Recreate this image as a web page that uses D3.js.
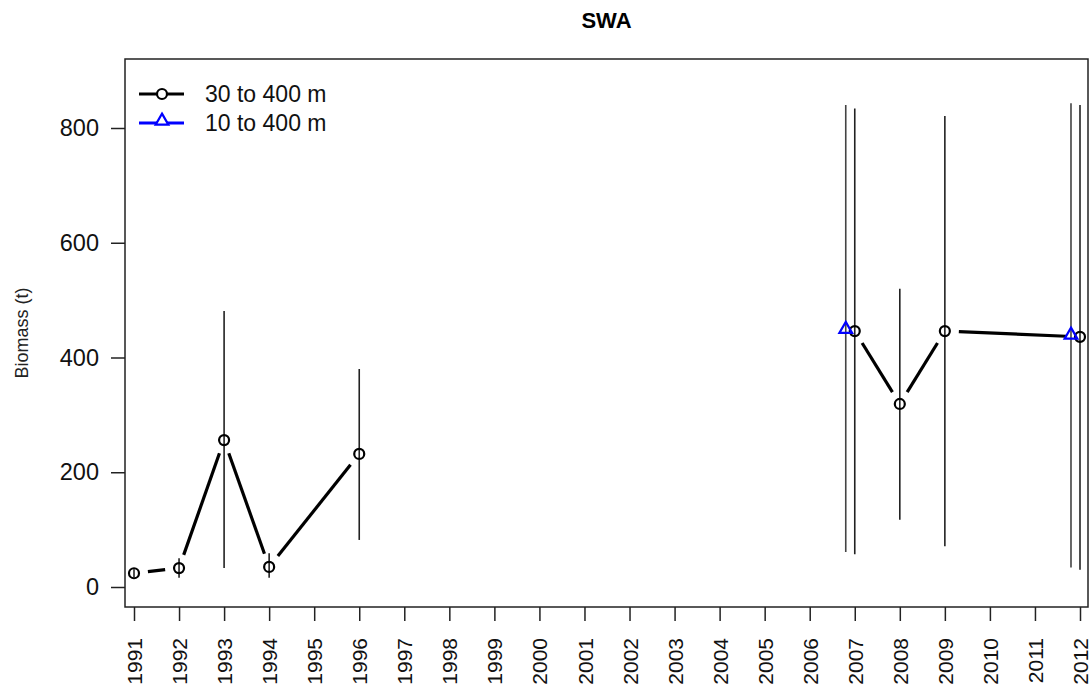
<!DOCTYPE html>
<html>
<head>
<meta charset="utf-8">
<script src="https://cdnjs.cloudflare.com/ajax/libs/d3/7.8.5/d3.min.js"></script>
<style>
  body { margin: 0; background: #fff; }
  svg { font-family: "Liberation Sans", Arial, sans-serif; }
</style>
</head>
<body>
<svg id="chart" width="1090" height="688"></svg>
<script>
// survey series 30 to 400 m (black)
var deepYears = [1991, 1992, 1993, 1994, 1996, 2007, 2008, 2009, 2012];
var deepBiomass = [24, 33, 256, 35, 232, 446, 319, 446, 436];
var deepLower = [17, 16, 33, 16, 82, 57, 117, 71, 30];
var deepUpper = [31, 50, 481, 59, 380, 834, 520, 821, 840];
var deepGroup = [1, 1, 1, 1, 1, 2, 2, 2, 2];

// survey series 10 to 400 m (blue)
var shallowYears = [2007, 2012];
var shallowBiomass = [451, 441];
var shallowLower = [61, 34];
var shallowUpper = [840, 843];

var yearTicks = d3.range(1991, 2013);
var biomassTicks = [0, 200, 400, 600, 800];

var svg = d3.select("#chart");
var box = { left: 125, right: 1088, top: 59, bottom: 607 };

var x = d3.scaleLinear().domain([1991, 2012]).range([134, 1080]);
var y = d3.scaleLinear().domain([0, 800]).range([587, 128]);
var dodge = -0.2;

// title
svg.append("text")
  .attr("x", (box.left + box.right) / 2)
  .attr("y", 28)
  .attr("text-anchor", "middle")
  .attr("font-weight", "bold")
  .attr("font-size", 22)
  .text("SWA");

// y axis label
svg.append("text")
  .attr("transform", "translate(28," + (box.top + box.bottom) / 2 + ") rotate(-90)")
  .attr("text-anchor", "middle")
  .attr("font-size", 18)
  .attr("fill", "#222")
  .text("Biomass (t)");

// y axis
var yAxis = svg.append("g")
  .attr("transform", "translate(" + box.left + ",0)")
  .call(d3.axisLeft(y).tickValues(biomassTicks).tickSize(14).tickPadding(12).tickFormat(d3.format("d")));
yAxis.select(".domain").remove();
yAxis.selectAll("line").attr("stroke", "#222").attr("stroke-width", 1.5);
yAxis.selectAll("text").attr("font-size", 23.5).attr("fill", "#111")
  .attr("font-family", "Liberation Sans, Arial, sans-serif");

// x axis
var xAxis = svg.append("g")
  .attr("transform", "translate(0," + box.bottom + ")")
  .call(d3.axisBottom(x).tickValues(yearTicks).tickSize(14).tickFormat(d3.format("d")));
xAxis.select(".domain").remove();
xAxis.selectAll("line").attr("stroke", "#222").attr("stroke-width", 1.5);
xAxis.selectAll("text")
  .attr("font-size", 21).attr("fill", "#111")
  .attr("font-family", "Liberation Sans, Arial, sans-serif")
  .attr("text-anchor", "end")
  .attr("transform", "translate(0,31) rotate(-90)")
  .attr("x", 0).attr("y", 0).attr("dy", "0.36em");

// plot box
svg.append("rect")
  .attr("x", box.left).attr("y", box.top)
  .attr("width", box.right - box.left).attr("height", box.bottom - box.top)
  .attr("fill", "none").attr("stroke", "#222").attr("stroke-width", 1.5);

// confidence intervals
var ci = svg.append("g").attr("stroke-width", 1.6);
deepYears.forEach(function (yr, i) {
  ci.append("line")
    .attr("x1", x(yr)).attr("x2", x(yr))
    .attr("y1", y(deepLower[i])).attr("y2", y(deepUpper[i]))
    .attr("stroke", "#222");
});
shallowYears.forEach(function (yr, i) {
  ci.append("line")
    .attr("x1", x(yr + dodge)).attr("x2", x(yr + dodge))
    .attr("y1", y(shallowLower[i])).attr("y2", y(shallowUpper[i]))
    .attr("stroke", "#444");
});

// connecting lines with gaps round the points (type = "b")
var gap = 14;
for (var i = 1; i < deepYears.length; i++) {
  if (deepGroup[i] !== deepGroup[i - 1]) continue;
  var x0 = x(deepYears[i - 1]), y0 = y(deepBiomass[i - 1]);
  var x1 = x(deepYears[i]), y1 = y(deepBiomass[i]);
  var len = Math.hypot(x1 - x0, y1 - y0);
  if (len <= 2 * gap) continue;
  var ux = (x1 - x0) / len, uy = (y1 - y0) / len;
  svg.append("line")
    .attr("x1", x0 + ux * gap).attr("y1", y0 + uy * gap)
    .attr("x2", x1 - ux * gap).attr("y2", y1 - uy * gap)
    .attr("stroke", "#000").attr("stroke-width", 3.2);
}

// points
svg.append("g").selectAll("circle")
  .data(deepYears)
  .join("circle")
  .attr("cx", function (d) { return x(d); })
  .attr("cy", function (d, i) { return y(deepBiomass[i]); })
  .attr("r", 5)
  .attr("fill", "none").attr("stroke", "#000").attr("stroke-width", 2.2);

var tri = d3.symbol().type(d3.symbolTriangle).size(70);
svg.append("g").selectAll("path")
  .data(shallowYears)
  .join("path")
  .attr("d", tri)
  .attr("transform", function (d, i) {
    return "translate(" + x(d + dodge) + "," + (y(shallowBiomass[i]) + 1) + ")";
  })
  .attr("fill", "none").attr("stroke", "#0000ff").attr("stroke-width", 2.2);

// legend
var legend = svg.append("g");
var legendItems = [
  { label: "30 to 400 m", color: "#000", shape: "circle" },
  { label: "10 to 400 m", color: "#0000ff", shape: "triangle" }
];
legendItems.forEach(function (it, i) {
  var ly = 94 + i * 29;
  legend.append("line")
    .attr("x1", 139).attr("x2", 184).attr("y1", ly).attr("y2", ly)
    .attr("stroke", it.color).attr("stroke-width", 3.2);
  if (it.shape === "circle") {
    legend.append("circle").attr("cx", 162).attr("cy", ly).attr("r", 5)
      .attr("fill", "#fff").attr("stroke", it.color).attr("stroke-width", 2.2);
  } else {
    legend.append("path").attr("d", tri)
      .attr("transform", "translate(162," + (ly - 2) + ")")
      .attr("fill", "#fff").attr("stroke", it.color).attr("stroke-width", 2.2);
  }
  legend.append("text")
    .attr("x", 205).attr("y", ly + 8)
    .attr("font-size", 23).attr("fill", "#111")
    .text(it.label);
});
</script>
</body>
</html>
